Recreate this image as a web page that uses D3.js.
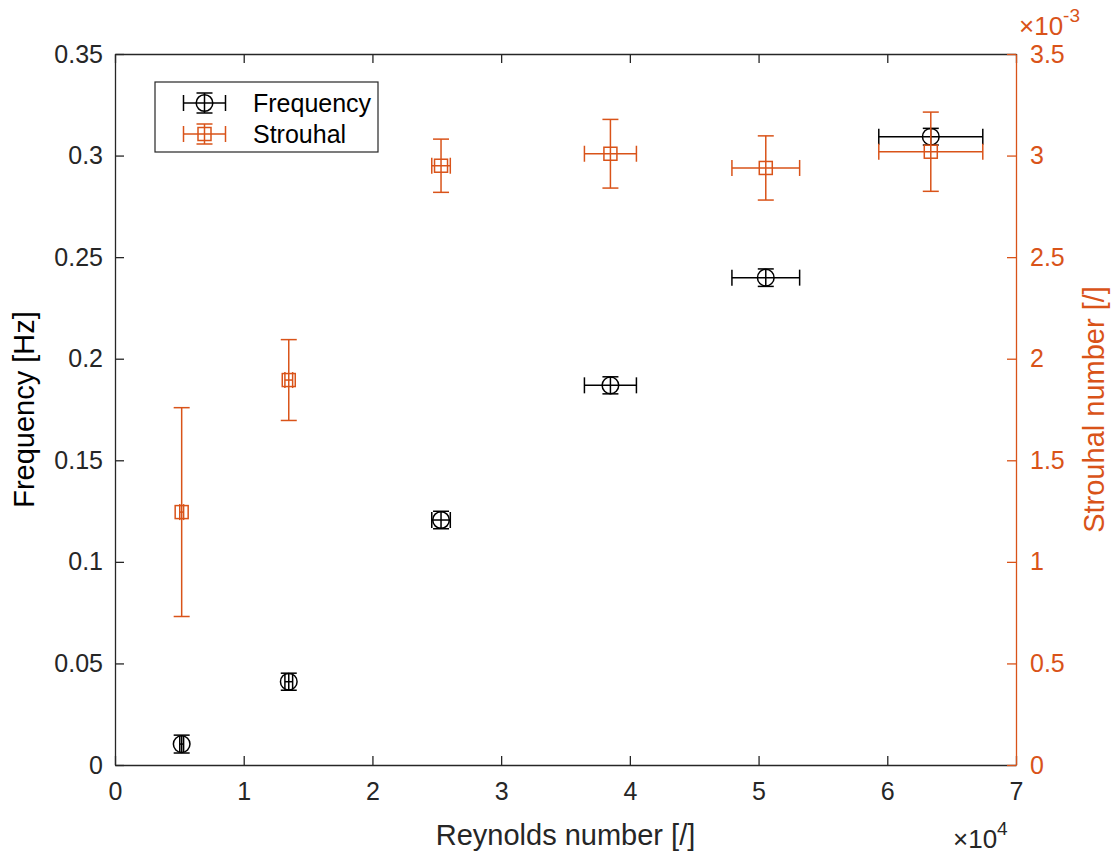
<!DOCTYPE html>
<html>
<head>
<meta charset="utf-8">
<script src="https://d3js.org/d3.v7.min.js"></script>
<style>
	body { margin: 0; background: #fff; }
	text { font-family: "Liberation Sans", Arial, sans-serif; }
	.axis_title { font-size: 29px; }
</style>
</head>
<body>
<script>
	// Reynolds number vs vortex shedding frequency (left) and Strouhal number (right)

	var reynolds      = [5180, 13500, 25330, 38490, 50560, 63380];
	var reynoldsErr   = [150, 300, 720, 2020, 2630, 4040];
	var frequency     = [0.0103, 0.0410, 0.1206, 0.1869, 0.2399, 0.3093];
	var frequencyErr  = [0.0044, 0.0042, 0.0043, 0.0042, 0.0043, 0.0041];
	var strouhal      = [1.245e-3, 1.895e-3, 2.950e-3, 3.009e-3, 2.939e-3, 3.019e-3];
	var strouhalErr   = [0.514e-3, 0.199e-3, 0.131e-3, 0.169e-3, 0.158e-3, 0.195e-3];

	var xTicks = [0, 1e4, 2e4, 3e4, 4e4, 5e4, 6e4, 7e4];
	var yTicks = [0, 0.05, 0.1, 0.15, 0.2, 0.25, 0.3, 0.35];
	var y2Ticks = [0, 0.5e-3, 1e-3, 1.5e-3, 2e-3, 2.5e-3, 3e-3, 3.5e-3];
	var seriesNames = ["Frequency", "Strouhal"];

	var width = 1117;
	var height = 854;
	var margin = { top: 54, right: 101, bottom: 89, left: 115 };

	var dark = "#262626";
	var orange = "#D95319";

	var xScale = d3.scaleLinear()
		.domain([0, 7e4])
		.range([margin.left, width - margin.right]);
	var yScale = d3.scaleLinear()
		.domain([0, 0.35])
		.range([height - margin.bottom, margin.top]);
	var y2Scale = d3.scaleLinear()
		.domain([0, 3.5e-3])
		.range([height - margin.bottom, margin.top]);

	var svg = d3.select("body")
		.append("svg")
		.attr("width", width)
		.attr("height", height);

	var tickLen = 9;

	// axes (ticks point inward like matlab)
	function styleAxis(g, color) {
		g.selectAll("path").attr("stroke", color).attr("stroke-width", 1.3);
		g.selectAll("line").attr("stroke", color).attr("stroke-width", 1.3);
		g.selectAll("text").attr("fill", color).style("font-size", "25px");
	}

	var xAxis = d3.axisBottom(xScale).tickValues(xTicks)
		.tickFormat(function(d) { return d / 1e4; })
		.tickSizeInner(-tickLen).tickSizeOuter(0).tickPadding(17);
	var xAxisTop = d3.axisTop(xScale).tickValues(xTicks)
		.tickFormat("").tickSizeInner(-tickLen).tickSizeOuter(0);
	var yAxis = d3.axisLeft(yScale).tickValues(yTicks)
		.tickFormat(function(d) { return d === 0 ? "0" : d3.format(".2~f")(d); })
		.tickSizeInner(-tickLen).tickSizeOuter(0).tickPadding(12);
	var y2Axis = d3.axisRight(y2Scale).tickValues(y2Ticks)
		.tickFormat(function(d) { return d3.format(".1~f")(d * 1e3); })
		.tickSizeInner(-tickLen).tickSizeOuter(0).tickPadding(14);

	svg.append("g")
		.attr("transform", "translate(0," + (height - margin.bottom) + ")")
		.call(xAxis).call(styleAxis, dark);
	svg.append("g")
		.attr("transform", "translate(0," + margin.top + ")")
		.call(xAxisTop).call(styleAxis, dark);
	svg.append("g")
		.attr("transform", "translate(" + margin.left + ",0)")
		.call(yAxis).call(styleAxis, dark);
	svg.append("g")
		.attr("transform", "translate(" + (width - margin.right) + ",0)")
		.call(y2Axis).call(styleAxis, orange);

	// axis titles
	svg.append("text")
		.attr("class", "axis_title")
		.attr("x", (margin.left + width - margin.right) / 2)
		.attr("y", 845)
		.attr("text-anchor", "middle")
		.attr("fill", dark)
		.text("Reynolds number [/]");
	svg.append("text")
		.attr("class", "axis_title")
		.attr("transform", "translate(" + [34, (margin.top + height - margin.bottom) / 2] + ") rotate(-90)")
		.attr("text-anchor", "middle")
		.attr("fill", "#000")
		.text("Frequency [Hz]");
	svg.append("text")
		.attr("class", "axis_title")
		.attr("transform", "translate(" + [1104, (margin.top + height - margin.bottom) / 2] + ") rotate(-90)")
		.attr("text-anchor", "middle")
		.attr("fill", orange)
		.text("Strouhal number [/]");

	// exponent labels
	var exX = svg.append("text")
		.attr("x", 953).attr("y", 848)
		.attr("fill", dark)
		.style("font-size", "26px");
	exX.append("tspan").text("\u00d710");
	exX.append("tspan").attr("dy", -13).style("font-size", "19px").text("4");

	var exY = svg.append("text")
		.attr("x", 1019).attr("y", 35)
		.attr("fill", orange)
		.style("font-size", "26px");
	exY.append("tspan").text("\u00d710");
	exY.append("tspan").attr("dy", -13).style("font-size", "19px").text("-3");

	// error bars
	var cap = 8;
	var seriesData = [
		{ name: seriesNames[0], y: frequency, err: frequencyErr, scale: yScale, color: "#000", marker: "circle" },
		{ name: seriesNames[1], y: strouhal, err: strouhalErr, scale: y2Scale, color: orange, marker: "square" }
	];

	function drawErrorBar(g, cx, cy, x0, x1, y0, y1, color, marker) {
		function line(a, b, c, d) {
			g.append("line")
				.attr("x1", a).attr("y1", b).attr("x2", c).attr("y2", d)
				.attr("stroke", color).attr("stroke-width", 1.5);
		}
		line(cx, y0, cx, y1);
		line(cx - cap, y0, cx + cap, y0);
		line(cx - cap, y1, cx + cap, y1);
		line(x0, cy, x1, cy);
		line(x0, cy - cap, x0, cy + cap);
		line(x1, cy - cap, x1, cy + cap);
		if (marker === "circle") {
			g.append("circle").attr("cx", cx).attr("cy", cy).attr("r", 8.3)
				.attr("stroke", color).attr("stroke-width", 1.5).attr("fill", "none");
		} else {
			g.append("rect").attr("x", cx - 6.5).attr("y", cy - 6.5)
				.attr("width", 13).attr("height", 13)
				.attr("stroke", color).attr("stroke-width", 1.5).attr("fill", "none");
		}
	}

	seriesData.forEach(function(s) {
		var g = svg.append("g");
		reynolds.forEach(function(re, i) {
			drawErrorBar(g,
				xScale(re), s.scale(s.y[i]),
				xScale(re - reynoldsErr[i]), xScale(re + reynoldsErr[i]),
				s.scale(s.y[i] + s.err[i]), s.scale(s.y[i] - s.err[i]),
				s.color, s.marker);
		});
	});

	// legend
	var legend = svg.append("g");
	legend.append("rect")
		.attr("x", 155).attr("y", 82)
		.attr("width", 223).attr("height", 70)
		.attr("fill", "#fff")
		.attr("stroke", dark)
		.attr("stroke-width", 1.2);
	seriesData.forEach(function(s, i) {
		var ly = 103 + i * 31;
		var icx = 204.5;
		drawErrorBar(legend, icx, ly, icx - 21, icx + 21, ly - 10, ly + 10, s.color, s.marker);
		legend.append("text")
			.attr("x", 253).attr("y", ly + 9)
			.attr("fill", "#000")
			.style("font-size", "25px")
			.text(s.name);
	});
</script>
</body>
</html>
